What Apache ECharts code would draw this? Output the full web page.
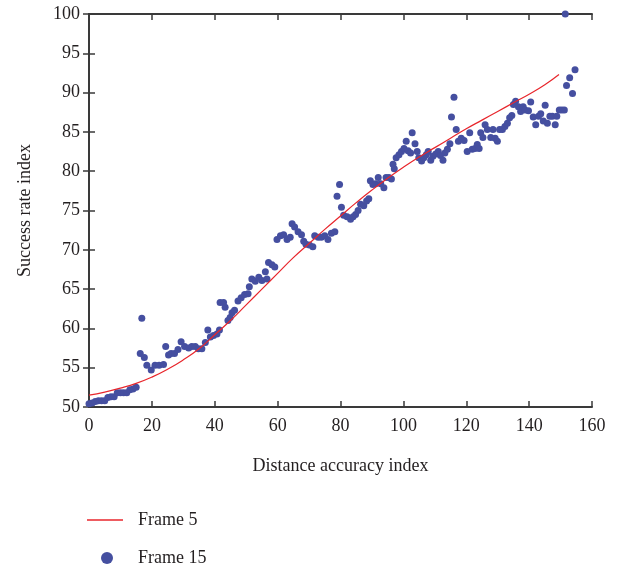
<!DOCTYPE html>
<html lang="en">
<head>
    <meta charset="UTF-8">
    <title>Success rate vs distance accuracy</title>
    <script src="https://cdn.jsdelivr.net/npm/echarts@6/dist/echarts.min.js"></script>
    <style>
        body { margin: 0; background: #fff; }
        #main { width: 619px; height: 571px; }
    </style>
</head>
<body>
    <div id="main"></div>
    <script>
        // Frame 5: fitted curve (x, y)
        const lineX = [0, 5, 10, 15, 20, 25, 30, 35, 40, 45, 50, 55, 60, 65, 70, 75, 80, 85, 90, 95, 100, 105, 110, 115, 120, 125, 130, 135, 140, 145, 149.5];
        const lineY = [51.5, 51.9, 52.4, 53.0, 53.8, 54.8, 56.0, 57.4, 59.2, 61.0, 63.0, 65.0, 67.0, 69.0, 70.8, 72.6, 74.3, 76.0, 77.6, 79.1, 80.5, 81.8, 83.0, 84.2, 85.4, 86.5, 87.6, 88.7, 89.8, 91.0, 92.3];

        // Frame 15: measured points (x, y)
        const dotX = [0, 1, 2, 3, 4, 5, 6, 7, 8, 9, 10, 11, 12, 13, 14, 15,
            16.3, 16.8, 17.6, 18.4, 19.8, 21.0, 22.3, 23.7, 24.4, 25.3, 26.1, 27.2, 28.3, 29.3, 30.4, 31.7, 32.7, 33.8, 34.8, 35.9, 37.0, 37.8, 38.6, 39.6,
            40.7, 41.5, 41.7, 42.8, 43.3, 44.2, 44.9, 45.5, 46.3, 47.4, 48.4, 49.5, 50.6, 51.0, 51.8, 52.9, 54.0, 55.0, 56.1, 56.6, 57.1, 58.2, 59.1, 59.8,
            60.9, 61.9, 63.0, 64.0, 64.6, 65.4, 66.5, 67.6, 68.3, 69.0, 70.1, 71.2, 71.8, 72.9, 73.9, 75.0, 76.0, 77.1, 78.2, 78.9, 79.7,
            80.3, 81.0, 82.1, 83.2, 84.0, 84.8, 85.6, 86.4, 87.4, 88.3, 89.0, 89.5, 90.3, 91.1, 92.0, 92.8, 93.8, 94.5, 95.4, 96.2, 96.7, 97.1, 97.7, 98.6, 99.4,
            100.2, 100.9, 101.5, 102.3, 102.8, 103.7, 104.4, 104.9, 105.8, 106.5, 107.3, 107.9, 108.7, 109.4, 110.3, 111.1, 111.8, 112.6, 113.2, 114.0, 114.8, 115.3, 116.1, 116.8, 117.5, 118.4, 119.3,
            120.3, 121.1, 121.9, 122.8, 123.5, 124.1, 124.6, 125.3, 126.0, 126.7, 127.8, 128.5, 129.2, 129.9, 130.6, 131.5, 132.3, 133.1, 133.8, 134.5, 135.0, 135.7, 136.6, 137.3, 138.1, 138.7, 139.8,
            140.5, 141.3, 142.1, 143.0, 143.7, 144.5, 145.1, 145.8, 146.6, 147.4, 148.3, 148.8, 149.6, 150.4, 151.2, 151.5, 151.9, 152.9, 153.8, 154.6];
        const dotY = [50.4, 50.5, 50.7, 50.8, 50.8, 50.8, 51.2, 51.3, 51.3, 51.8, 51.8, 51.8, 51.8, 52.2, 52.3, 52.5,
            56.8, 61.3, 56.3, 55.3, 54.7, 55.3, 55.3, 55.4, 57.7, 56.6, 56.8, 56.8, 57.3, 58.3, 57.7, 57.5, 57.7, 57.7, 57.4, 57.4, 58.2, 59.8, 58.9, 59.1,
            59.3, 59.8, 63.3, 63.3, 62.7, 61.0, 61.4, 62.0, 62.3, 63.5, 63.9, 64.3, 64.4, 65.3, 66.3, 66.0, 66.5, 66.1, 67.2, 66.3, 68.4, 68.1, 67.8, 71.3,
            71.8, 71.9, 71.3, 71.6, 73.3, 72.9, 72.3, 71.9, 71.1, 70.7, 70.6, 70.4, 71.8, 71.6, 71.6, 71.8, 71.3, 72.1, 72.3, 76.8, 78.3,
            75.4, 74.4, 74.2, 73.9, 74.2, 74.5, 75.0, 75.8, 75.6, 76.2, 76.5, 78.8, 78.3, 78.4, 79.2, 78.4, 77.9, 79.2, 79.2, 79.0, 80.9, 80.3, 81.7, 82.1, 82.5,
            82.9, 83.8, 82.6, 82.3, 84.9, 83.5, 82.5, 81.7, 81.3, 81.7, 82.1, 82.5, 81.4, 81.9, 82.2, 82.5, 82.0, 81.4, 82.3, 82.8, 83.5, 86.9, 89.4, 85.3, 83.8, 84.2, 83.9,
            82.5, 84.9, 82.8, 82.9, 83.4, 82.9, 84.9, 84.3, 85.9, 85.3, 84.3, 85.3, 84.2, 83.8, 85.3, 85.3, 85.7, 86.1, 86.8, 87.1, 88.5, 88.9, 88.2, 87.6, 88.2, 87.8, 87.7,
            88.8, 86.9, 85.9, 87.0, 87.3, 86.4, 88.4, 86.1, 87.0, 87.0, 85.9, 87.0, 87.8, 87.8, 87.8, 100, 90.9, 91.9, 89.9, 92.9];

        const lineData = lineX.map((x, i) => [x, lineY[i]]);
        const dotData = dotX.map((x, i) => [x, dotY[i]]);

        const ink = '#231f20';
        const serif = 'Liberation Serif';
        const red = '#e8262c';
        const blue = '#454fa0';

        let myChart = echarts.init(document.getElementById('main'));
        let tickStyle = { show: true, inside: true, length: 6, lineStyle: { color: '#3a3a3a', width: 1.5 } };
        let lineStyleAxis = { show: true, lineStyle: { color: '#3a3a3a', width: 2 } };
        let legendFont = { fontFamily: serif, fontSize: 18, color: ink };

        let option = {
            animation: false,
            backgroundColor: '#fff',
            textStyle: { fontFamily: serif, color: ink },
            grid: { left: 89, right: 27, top: 14, bottom: 164 },
            // two legends, one per row, so the column never wraps
            legend: [{
                left: 87, top: 511, padding: 0,
                itemWidth: 36, itemHeight: 1.5,
                textStyle: Object.assign({ padding: [0, 0, 0, 10] }, legendFont),
                data: [{ name: 'Frame 5', icon: 'rect', itemStyle: { color: red } }]
            }, {
                left: 101, top: 549, padding: 0,
                itemWidth: 12, itemHeight: 12,
                textStyle: Object.assign({ padding: [0, 0, 0, 20] }, legendFont),
                data: [{ name: 'Frame 15', icon: 'circle' }]
            }],
            xAxis: [{
                type: 'value', min: 0, max: 160, interval: 20,
                name: 'Distance accuracy index', nameLocation: 'middle', nameGap: 50,
                nameTextStyle: { fontFamily: serif, fontSize: 18, color: ink },
                axisLine: lineStyleAxis, axisTick: tickStyle,
                axisLabel: { fontFamily: serif, fontSize: 18, color: ink, margin: 10 },
                splitLine: { show: false }
            }, {
                type: 'value', position: 'top', min: 0, max: 160, interval: 20,
                axisLine: lineStyleAxis, axisTick: tickStyle,
                axisLabel: { show: false }, splitLine: { show: false }
            }],
            yAxis: [{
                type: 'value', min: 50, max: 100, interval: 5,
                name: 'Success rate index', nameLocation: 'middle', nameGap: 55,
                nameTextStyle: { fontFamily: serif, fontSize: 18, color: ink },
                axisLine: lineStyleAxis, axisTick: tickStyle,
                axisLabel: { fontFamily: serif, fontSize: 18, color: ink, margin: 9 },
                splitLine: { show: false }
            }, {
                type: 'value', position: 'right', min: 50, max: 100, interval: 5,
                axisLine: lineStyleAxis, axisTick: tickStyle,
                axisLabel: { show: false }, splitLine: { show: false }
            }],
            series: [
                {
                    name: 'Frame 5',
                    type: 'line',
                    data: lineData,
                    smooth: true,
                    symbol: 'none',
                    lineStyle: { color: red, width: 1.2 },
                    itemStyle: { color: red },
                    z: 3
                },
                {
                    name: 'Frame 15',
                    type: 'scatter',
                    data: dotData,
                    symbolSize: 7,
                    clip: false,
                    itemStyle: { color: blue, opacity: 1 },
                    z: 2
                }
            ]
        };
        myChart.setOption(option);
    </script>
</body>
</html>
